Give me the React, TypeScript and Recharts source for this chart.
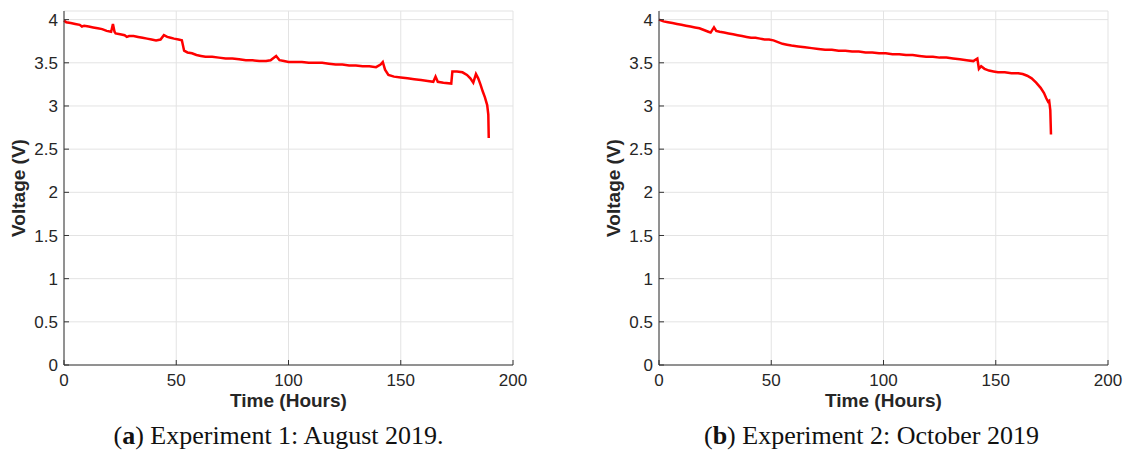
import { LineChart, Line, XAxis, YAxis, CartesianGrid } from "recharts";

const timeTicks = [0, 50, 100, 150, 200];
const voltTicks = [0, 0.5, 1, 1.5, 2, 2.5, 3, 3.5, 4];

// Experiment 1: August 2019
const exp1Hours = [
  0, 1, 3, 5, 7, 8, 9, 11, 13, 15, 17, 19, 21, 21.8, 22.5, 23, 25, 27, 28, 29, 31, 33, 35, 37, 39, 41,
  43, 44.5, 46, 47.5, 49, 51, 52.5, 53.5, 55, 57, 59, 61, 63, 66, 69, 72, 75, 78, 81, 84, 87, 90, 92,
  94.5, 96, 98, 100, 103, 106, 109, 112, 115, 118, 121, 124, 127, 130, 133, 136, 139, 141, 142, 143,
  144.5, 147, 150, 153, 156, 159, 162, 164.5, 165.5, 166.5, 169, 172.5, 173, 175, 177.5, 179.5, 181,
  182.3, 183.5, 184.5, 185.5, 186.5, 187.5, 188.5, 189, 189.2,
];
const exp1Volts = [
  3.99, 3.97, 3.96, 3.95, 3.94, 3.92, 3.93, 3.92, 3.91, 3.9, 3.89, 3.87, 3.86, 3.95, 3.86, 3.84, 3.83,
  3.82, 3.8, 3.81, 3.81, 3.8, 3.79, 3.78, 3.77, 3.76, 3.77, 3.82, 3.8, 3.79, 3.78, 3.77, 3.76, 3.64,
  3.62, 3.61, 3.59, 3.58, 3.57, 3.57, 3.56, 3.55, 3.55, 3.54, 3.53, 3.53, 3.52, 3.52, 3.53, 3.58, 3.53,
  3.52, 3.51, 3.51, 3.51, 3.5, 3.5, 3.5, 3.49, 3.48, 3.48, 3.47, 3.47, 3.46, 3.46, 3.45, 3.48, 3.51,
  3.42, 3.36, 3.34, 3.33, 3.32, 3.31, 3.3, 3.29, 3.28, 3.34, 3.28, 3.27, 3.26, 3.4, 3.4, 3.39, 3.36,
  3.32, 3.27, 3.37, 3.32, 3.25, 3.17, 3.1, 3.01, 2.9, 2.63,
];

// Experiment 2: October 2019
const exp2Hours = [
  0, 2, 4, 6, 8, 10, 12, 14, 16, 18, 20, 22, 23, 24.5, 25.5, 27, 29, 31, 33, 35, 37, 39, 41, 43, 45,
  47, 49, 51, 53, 55, 57, 59, 62, 65, 68, 71, 74, 77, 80, 83, 86, 89, 92, 95, 98, 101, 104, 107, 110,
  113, 116, 119, 122, 125, 128, 131, 134, 137, 140, 141.8, 142.5, 143.5, 145, 147, 149, 151, 154, 157,
  160, 162, 164, 166, 168, 170, 171.5, 172.5, 173.3, 173.8, 174.3, 174.6,
];
const exp2Volts = [
  4.0, 3.98, 3.97, 3.96, 3.95, 3.94, 3.93, 3.92, 3.91, 3.9, 3.88, 3.86, 3.85, 3.91, 3.87, 3.86, 3.85,
  3.84, 3.83, 3.82, 3.81, 3.8, 3.79, 3.79, 3.78, 3.77, 3.77, 3.76, 3.74, 3.72, 3.71, 3.7, 3.69, 3.68,
  3.67, 3.66, 3.65, 3.65, 3.64, 3.64, 3.63, 3.63, 3.62, 3.62, 3.61, 3.61, 3.6, 3.6, 3.59, 3.59, 3.58,
  3.57, 3.57, 3.56, 3.56, 3.55, 3.54, 3.53, 3.52, 3.55, 3.43, 3.46, 3.43, 3.41, 3.4, 3.39, 3.39, 3.38,
  3.38, 3.37, 3.35, 3.32, 3.27, 3.21, 3.15, 3.09, 3.05, 3.06, 2.95, 2.67,
];

const toRows = (hours: number[], volts: number[]) =>
  hours.map((t, i) => ({ t, v: volts[i] }));

const tickFont = { fontFamily: "Liberation Sans, Arial, sans-serif", fontSize: 17, fill: "#262626" };
const labelFont = {
  fontFamily: "Liberation Sans, Arial, sans-serif",
  fontSize: 19,
  fontWeight: 700,
  fill: "#262626",
};
const axisColor = "#333";
const blank = () => "";

interface PanelProps {
  rows: { t: number; v: number }[];
  left: number;
  captionLeft: number;
  letter: string;
  caption: string;
}

const Panel = ({ rows, left, captionLeft, letter, caption }: PanelProps) => (
  <>
    <div style={{ position: "absolute", left, top: 0 }}>
      <LineChart width={530} height={420} data={rows} margin={{ top: 11, right: 17, bottom: 0, left: 0 }}>
        <CartesianGrid stroke="#e3e3e3" />
        <XAxis
          dataKey="t"
          type="number"
          domain={[0, 200]}
          ticks={timeTicks}
          height={55}
          stroke={axisColor}
          tick={tickFont}
          tickSize={-5}
          tickMargin={14}
          label={{ value: "Time (Hours)", position: "insideBottom", offset: 13, style: labelFont }}
        />
        <XAxis
          xAxisId="top"
          orientation="top"
          type="number"
          domain={[0, 200]}
          ticks={timeTicks}
          height={0}
          stroke={axisColor}
          tickSize={-5}
          tickFormatter={blank}
        />
        <YAxis
          type="number"
          domain={[0, 4.1]}
          ticks={voltTicks}
          width={64}
          stroke={axisColor}
          tick={tickFont}
          tickSize={-5}
          tickMargin={11}
          label={{
            value: "Voltage (V)",
            angle: -90,
            position: "insideLeft",
            offset: 18,
            style: { ...labelFont, textAnchor: "middle" },
          }}
        />
        <YAxis
          yAxisId="right"
          orientation="right"
          type="number"
          domain={[0, 4.1]}
          ticks={voltTicks}
          width={0}
          stroke={axisColor}
          tickSize={-5}
          tickFormatter={blank}
        />
        <Line
          dataKey="v"
          type="linear"
          stroke="#ff0000"
          strokeWidth={2.5}
          dot={false}
          isAnimationActive={false}
        />
      </LineChart>
    </div>
    <div
      style={{
        position: "absolute",
        left: captionLeft,
        width: 449,
        top: 423,
        textAlign: "center",
        fontFamily: "Liberation Serif, Times New Roman, serif",
        fontSize: 26,
        lineHeight: "26px",
        color: "#111",
        whiteSpace: "nowrap",
      }}
    >
      (<b>{letter}</b>) {caption}
    </div>
  </>
);

export default function App() {
  return (
    <div style={{ position: "absolute", left: 0, top: 0, width: 1129, height: 457, background: "#fff" }}>
      <Panel
        rows={toRows(exp1Hours, exp1Volts)}
        left={0}
        captionLeft={54}
        letter="a"
        caption="Experiment 1: August 2019."
      />
      <Panel
        rows={toRows(exp2Hours, exp2Volts)}
        left={595}
        captionLeft={647}
        letter="b"
        caption="Experiment 2: October 2019"
      />
    </div>
  );
}
